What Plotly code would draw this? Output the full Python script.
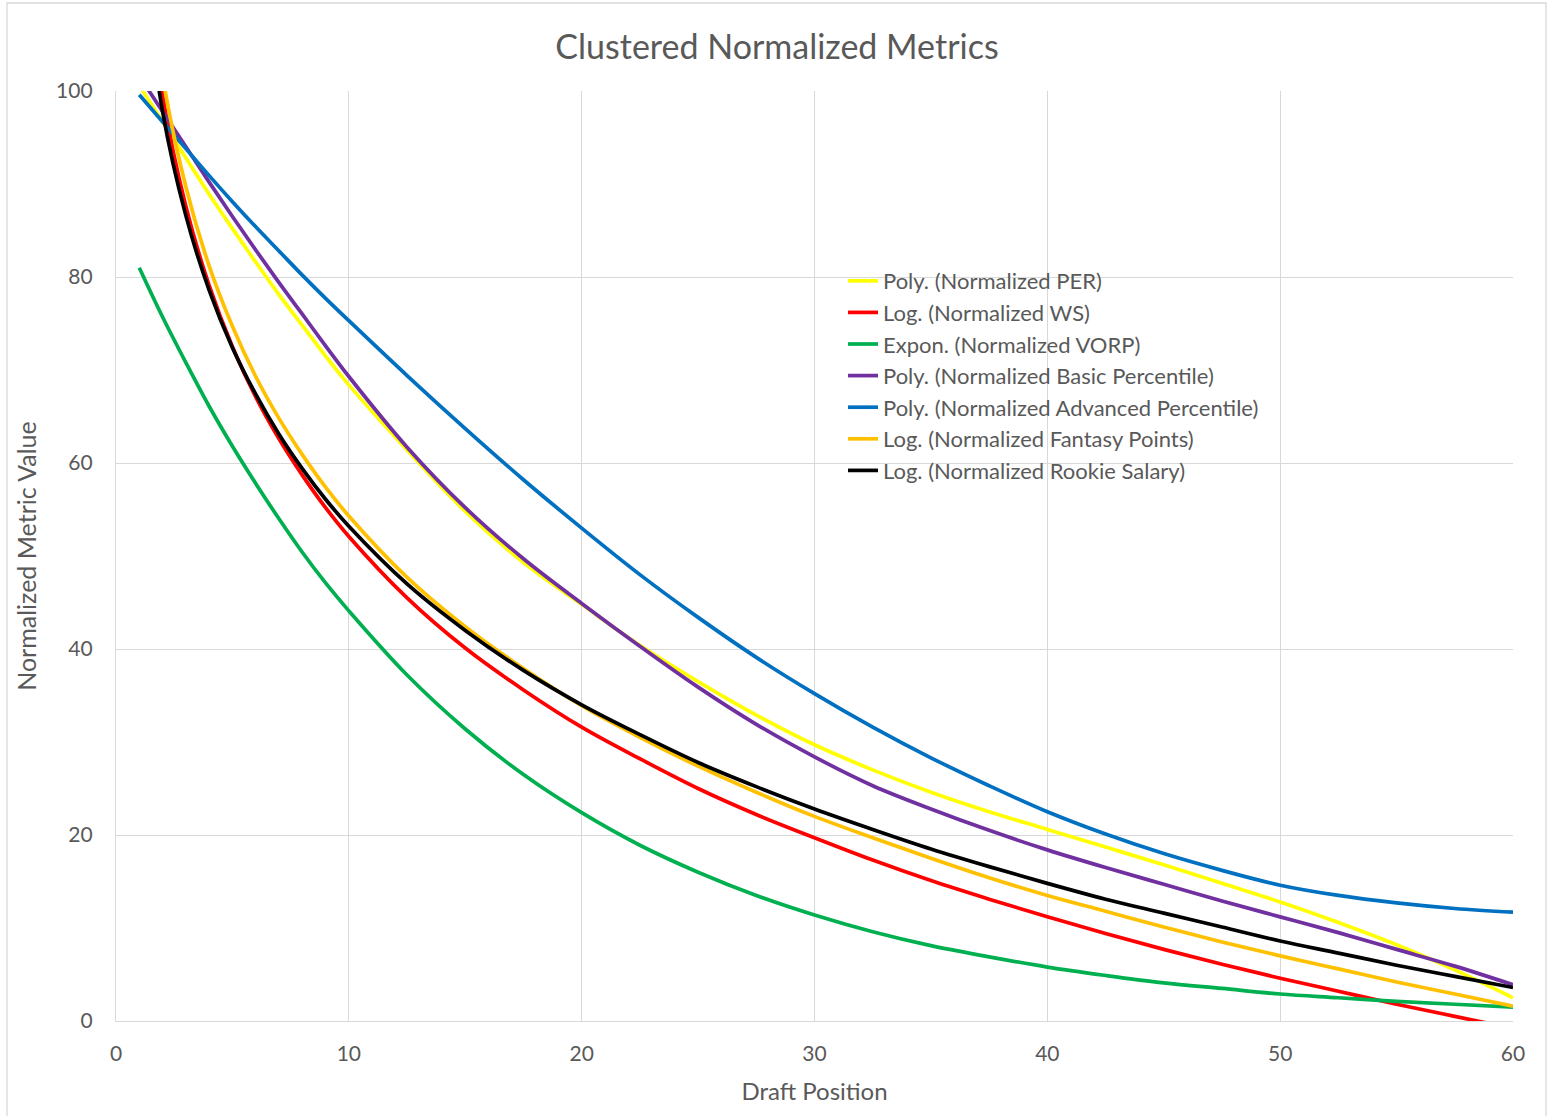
import plotly.graph_objects as go

draft_pos = [1, 2, 3, 4, 5, 6, 7, 8, 9, 10, 12.5, 15, 17.5, 20, 22.5, 25, 27.5, 30,
             32.5, 35, 37.5, 40, 42.5, 45, 47.5, 50, 52.5, 55, 57.5, 60]

per_vals = [100.6, 96.7, 92.8, 88.9, 85.2, 81.6, 78.1, 74.8, 71.5, 68.4, 61.4, 54.8, 49.3, 44.8,
            40.4, 36.5, 32.9, 29.7, 27.0, 24.6, 22.5, 20.6, 18.7, 16.8, 14.8, 12.8, 10.6, 8.2, 5.5, 2.5]
ws_vals = [120.0, 99.6, 87.6, 79.1, 72.5, 67.1, 62.6, 58.7, 55.2, 52.1, 45.5, 40.1, 35.6, 31.6,
           28.2, 25.0, 22.2, 19.7, 17.3, 15.1, 13.1, 11.2, 9.4, 7.7, 6.1, 4.6, 3.2, 1.8, 0.5, -0.8]
vorp_vals = [81.0, 75.7, 70.8, 66.1, 61.8, 57.8, 54.0, 50.4, 47.1, 44.1, 37.2, 31.4, 26.5, 22.4,
             18.9, 16.0, 13.5, 11.4, 9.6, 8.1, 6.9, 5.8, 4.9, 4.1, 3.5, 2.9, 2.5, 2.1, 1.8, 1.5]
basic_vals = [101.6, 97.8, 94.0, 90.2, 86.5, 82.9, 79.4, 76.0, 72.6, 69.3, 61.7, 55.2, 49.7, 44.9,
              40.3, 35.9, 31.9, 28.4, 25.3, 22.8, 20.5, 18.4, 16.5, 14.7, 12.9, 11.2, 9.5, 7.7, 5.9, 3.9]
adv_vals = [99.6, 96.7, 93.8, 90.9, 88.1, 85.4, 82.8, 80.2, 77.7, 75.3, 69.4, 63.7, 58.2, 53.0,
            48.0, 43.4, 39.1, 35.2, 31.6, 28.3, 25.3, 22.5, 20.1, 18.0, 16.2, 14.6, 13.5, 12.7, 12.1, 11.7]
fantasy_vals = [122.0, 101.6, 89.7, 81.2, 74.7, 69.3, 64.8, 60.9, 57.4, 54.3, 47.7, 42.4, 37.9, 33.9,
                30.5, 27.4, 24.6, 22.0, 19.7, 17.5, 15.4, 13.5, 11.8, 10.1, 8.5, 7.0, 5.6, 4.2, 2.9, 1.6]
salary_vals = [117.0, 97.8, 86.6, 78.6, 72.4, 67.4, 63.1, 59.4, 56.1, 53.2, 47.0, 42.0, 37.7, 34.0,
               30.8, 27.8, 25.2, 22.8, 20.6, 18.5, 16.6, 14.8, 13.1, 11.6, 10.1, 8.6, 7.3, 6.0, 4.8, 3.6]

series_names = [
    "Poly. (Normalized PER)",
    "Log. (Normalized WS)",
    "Expon. (Normalized VORP)",
    "Poly. (Normalized Basic Percentile)",
    "Poly. (Normalized Advanced Percentile)",
    "Log. (Normalized Fantasy Points)",
    "Log. (Normalized Rookie Salary)",
]
series_vals = [per_vals, ws_vals, vorp_vals, basic_vals, adv_vals, fantasy_vals, salary_vals]
series_colors = ["#FFFF00", "#FF0000", "#00B050", "#7030A0", "#0070C0", "#FFC000", "#000000"]

x_ticks = [0, 10, 20, 30, 40, 50, 60]
y_ticks = [0, 20, 40, 60, 80, 100]

FONT = "Lato"
TXT = "#595959"
GRID = "#D9D9D9"

fig = go.Figure()
for name, vals, col in zip(series_names, series_vals, series_colors):
    fig.add_trace(go.Scatter(
        x=draft_pos, y=vals, name=name, mode="lines",
        line=dict(color=col, width=3.7, shape="spline", smoothing=1.0),
    ))

W, H = 1554, 1116
L, R, T, B = 116, 41, 91, 95
pw, ph = W - L - R, H - T - B

fig.update_layout(
    width=W, height=H,
    margin=dict(l=L, r=R, t=T, b=B),
    paper_bgcolor="white", plot_bgcolor="white",
    font=dict(family=FONT, color=TXT, size=21),
    title=dict(text="Clustered Normalized Metrics", x=0.5, xanchor="center",
               xref="container", yref="container", y=1 - 47 / H, yanchor="middle",
               font=dict(family=FONT, size=34, color=TXT)),
    xaxis=dict(range=[0, 60], tickvals=x_ticks, showgrid=True, gridcolor=GRID, gridwidth=1.4,
               zeroline=False, showline=True, linecolor=GRID, linewidth=1.4,
               tickfont=dict(size=21, color=TXT), ticks="", ticklabelstandoff=14,
               title=dict(text="Draft Position", font=dict(size=24, color=TXT), standoff=18)),
    yaxis=dict(range=[0, 100], tickvals=y_ticks, showgrid=True, gridcolor=GRID, gridwidth=1.4,
               zeroline=False, showline=True, linecolor=GRID, linewidth=1.4,
               tickfont=dict(size=21, color=TXT), ticks="", ticklabelstandoff=18,
               title=dict(text="Normalized Metric Value", font=dict(size=25, color=TXT), standoff=12)),
    legend=dict(x=(843 - L) / pw, y=(T + ph - 260) / ph, xanchor="left", yanchor="top",
                bgcolor="rgba(0,0,0,0)", borderwidth=0,
                font=dict(family=FONT, size=22, color=TXT), tracegroupgap=0),
    showlegend=True,
)

# outer chart border
fig.add_shape(type="rect", xref="paper", yref="paper",
              x0=(7 - L) / pw, x1=(1546 - L) / pw,
              y0=(T + ph - 1120) / ph, y1=(T + ph - 3) / ph,
              line=dict(color=GRID, width=1.3), fillcolor="rgba(0,0,0,0)", layer="below")

fig.write_html("out.html")
